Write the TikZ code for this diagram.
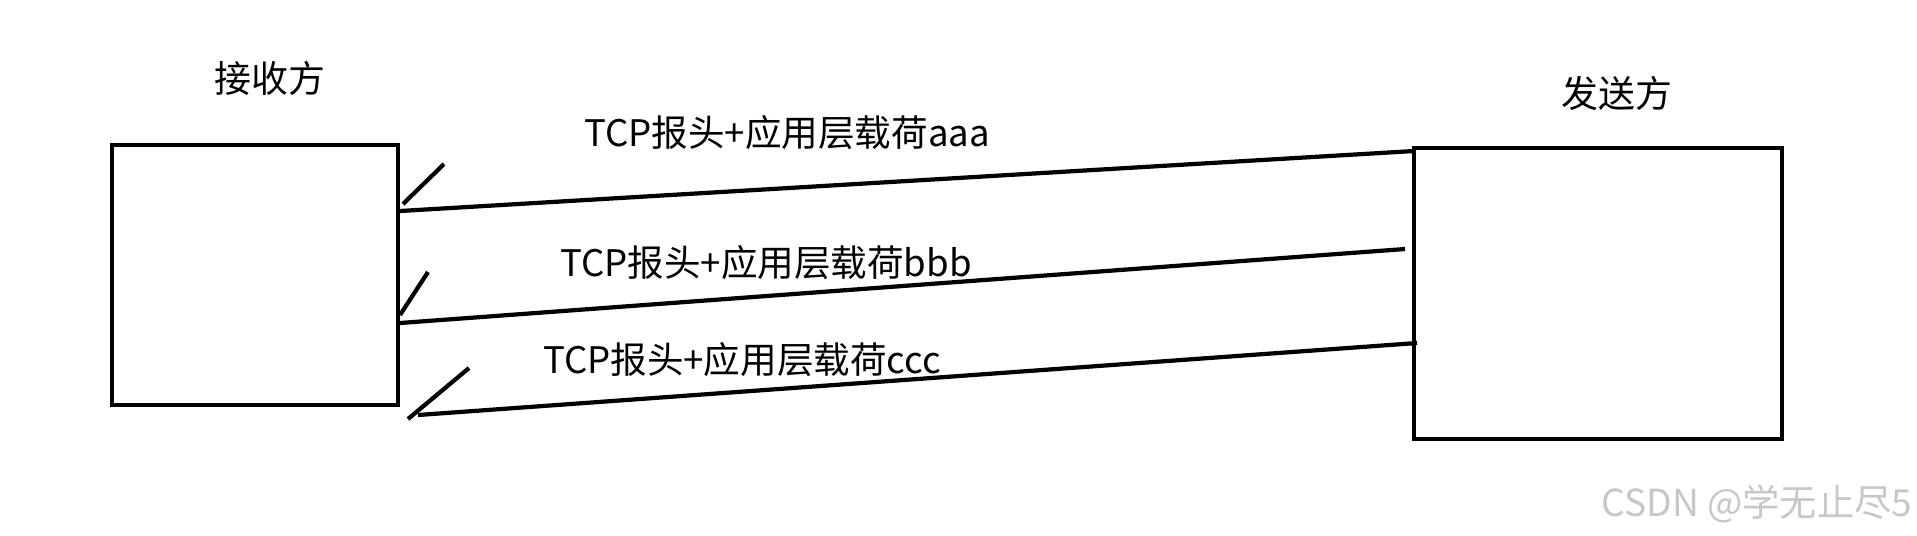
\documentclass[tikz,border=0pt]{standalone}
\usepackage{fontspec}
\setmainfont{Noto Sans CJK SC}

\begin{document}
\begin{tikzpicture}[x=0.01cm,y=-0.01cm,
  box/.style={draw,line width=1.2pt,inner sep=0pt},
  wire/.style={line width=1.2pt},
  msg/.style={font=\fontsize{10.4pt}{12pt}\selectfont,inner sep=0pt},
  side/.style={font=\fontsize{10.5pt}{12pt}\selectfont,inner sep=0pt}]
\useasboundingbox (0,0) rectangle (1917,535);
\node[box,minimum width=2.86cm,minimum height=2.60cm] (recv) at (255,275) {};
\node[box,minimum width=3.68cm,minimum height=2.91cm] (send) at (1598,293.5) {};
\node[side] (recvlbl) at (270,78) {接收方};
\node[side] (sendlbl) at (1617,93) {发送方};
\coordinate (s1) at (1414,151);
\coordinate (r1) at (400,211);
\coordinate (s2) at (1405,249);
\coordinate (r2) at (400,323);
\coordinate (s3) at (1417,343);
\coordinate (r3) at (418,415);
\draw[wire] (s1) -- (r1);
\draw[wire] (s2) -- (r2);
\draw[wire] (s3) -- (r3);
\draw[wire] (403,204) -- (444,164);
\draw[wire] (400,315) -- (428,272);
\draw[wire] (408,419) -- (469,368);
\node[msg] (m1) at (787,133) {TCP报头+应用层载荷aaa};
\node[msg] (m2) at (766,263) {TCP报头+应用层载荷bbb};
\node[msg] (m3) at (742,360) {TCP报头+应用层载荷ccc};
\node[font=\fontsize{10.6pt}{12pt}\selectfont,text=black!22,inner sep=0pt] (mark) at (1757,504) {CSDN @学无止尽5};
\end{tikzpicture}
\end{document}
